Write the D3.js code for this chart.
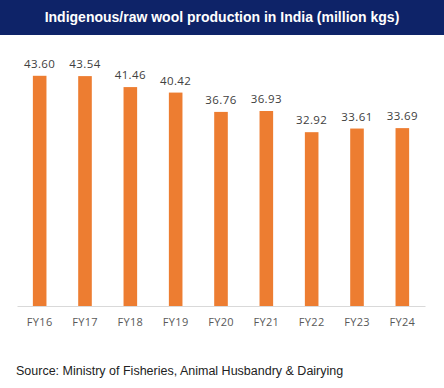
<!DOCTYPE html>
<html><head><meta charset="utf-8">
<script src="https://cdn.jsdelivr.net/npm/d3@7"></script>
<style>body{margin:0;background:#fff}svg{display:block}</style>
</head><body>
<script>
const categories = ["FY16","FY17","FY18","FY19","FY20","FY21","FY22","FY23","FY24"];
const values = [43.60,43.54,41.46,40.42,36.76,36.93,32.92,33.61,33.69];
const title = "Indigenous/raw wool production in India (million kgs)";
const source = "Source: Ministry of Fisheries, Animal Husbandry & Dairying";

const W = 444, H = 388;
const svg = d3.select("body").append("svg").attr("width", W).attr("height", H);
svg.append("rect").attr("x",0).attr("y",0).attr("width",W).attr("height",35).attr("fill","#0e2368");
svg.append("text").attr("x",W/2).attr("y",22).attr("text-anchor","middle")
  .attr("font-family","Liberation Sans, Arial, sans-serif").attr("font-weight","bold")
  .attr("font-size",14).attr("fill","#fff").text(title);

const x = d3.scaleBand().domain(categories).range([17,425]).paddingInner(0.7).paddingOuter(0.35);
const y = d3.scaleLinear().domain([0,50]).range([306,42]);

svg.append("g").selectAll("rect").data(values).join("rect")
  .attr("x",(d,i)=>x(categories[i])).attr("width",x.bandwidth())
  .attr("y",d=>y(d)).attr("height",d=>y(0)-y(d)).attr("fill","#ED7D31");

svg.append("g").selectAll("text").data(values).join("text")
  .attr("x",(d,i)=>x(categories[i])+x.bandwidth()/2).attr("y",d=>y(d)-8)
  .attr("text-anchor","middle").attr("font-family","Open Sans, sans-serif").attr("font-size",11.5)
  .attr("letter-spacing",0.4).attr("fill","#404040").text(d=>d.toFixed(2));

const ax = svg.append("g").attr("transform","translate(0,306)")
  .call(d3.axisBottom(x).tickSize(0).tickPadding(12));
ax.select(".domain").attr("stroke","#d9d9d9").attr("stroke-width",1);
ax.selectAll("text").attr("font-family","Open Sans, sans-serif").attr("font-size",11)
  .attr("letter-spacing",0.3).attr("fill","#595959");

svg.append("text").attr("x",16).attr("y",375)
  .attr("font-family","Liberation Sans, Arial, sans-serif").attr("font-size",12.5).attr("fill","#222")
  .text(source);
</script>
</body></html>
